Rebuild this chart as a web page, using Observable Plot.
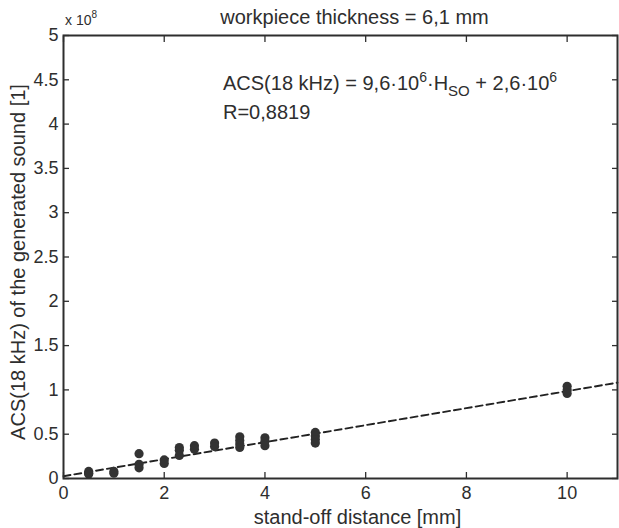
<!DOCTYPE html>
<html>
<head>
<meta charset="utf-8">
<script src="https://cdn.jsdelivr.net/npm/d3@7"></script>
<script src="https://cdn.jsdelivr.net/npm/@observablehq/plot@0.6"></script>
<style>
  html, body { margin: 0; padding: 0; background: #fff; }
  svg { display: block; }
</style>
</head>
<body>
<div id="chart"></div>
<script>
// ---- data ----
const hso = [0.5, 0.5, 0.5, 1, 1, 1.5, 1.5, 1.5, 2, 2, 2.3, 2.3, 2.3, 2.6, 2.6, 3, 3,
             3.5, 3.5, 3.5, 3.5, 4, 4, 4, 5, 5, 5, 5, 10, 10, 10];
const acs = [0.08e8, 0.06e8, 0.05e8, 0.08e8, 0.06e8, 0.28e8, 0.16e8, 0.12e8, 0.21e8, 0.17e8,
             0.35e8, 0.32e8, 0.26e8, 0.37e8, 0.33e8, 0.40e8, 0.36e8,
             0.47e8, 0.43e8, 0.39e8, 0.35e8, 0.46e8, 0.42e8, 0.37e8,
             0.52e8, 0.48e8, 0.44e8, 0.40e8, 1.04e8, 1.00e8, 0.96e8];
const fitSlope = 9.6e6;
const fitIntercept = 2.6e6;
const fitRange = [0, 11];
const xTicks = [0, 2, 4, 6, 8, 10];
const yTicks = [0, 0.5e8, 1e8, 1.5e8, 2e8, 2.5e8, 3e8, 3.5e8, 4e8, 4.5e8, 5e8];
const yTickLabels = ["0", "0.5", "1", "1.5", "2", "2.5", "3", "3.5", "4", "4.5", "5"];
const titleText = "workpiece thickness = 6,1 mm";
const xLabel = "stand-off distance [mm]";
const yLabel = "ACS(18 kHz) of the generated sound [1]";

(function () {
const points = hso.map((x, i) => ({x, y: acs[i]}));
const fit = fitRange.map(x => ({x, y: fitSlope * x + fitIntercept}));

const ink = "#2e2e2e";
const font = "Liberation Sans, Arial, sans-serif";

const chart = Plot.plot({
  width: 619,
  height: 528,
  marginLeft: 63,
  marginRight: 2,
  marginTop: 35,
  marginBottom: 50,
  style: {fontFamily: font, fontSize: "16px", color: ink, background: "#fff"},
  x: {domain: [0, 11]},
  y: {domain: [0, 5e8]},
  marks: [
    Plot.line(fit, {x: "x", y: "y", stroke: "#222", strokeWidth: 1.9, strokeDasharray: "7,4"}),
    Plot.dot(points, {x: "x", y: "y", r: 4.6, fill: "#333", stroke: "none"}),
    Plot.axisX({ticks: xTicks, anchor: "bottom", tickSize: -6, tickFormat: () => "", stroke: ink, strokeWidth: 1.3, label: null}),
    Plot.axisX({ticks: xTicks, anchor: "top", tickSize: -6, tickFormat: () => "", stroke: ink, strokeWidth: 1.3, label: null}),
    Plot.axisY({ticks: yTicks, anchor: "left", tickSize: -6, tickFormat: () => "", stroke: ink, strokeWidth: 1.3, label: null}),
    Plot.axisY({ticks: yTicks, anchor: "right", tickSize: -6, tickFormat: () => "", stroke: ink, strokeWidth: 1.3, label: null}),
    Plot.axisX({ticks: xTicks, anchor: "bottom", tickSize: 0, tickPadding: 8, fontSize: 18, fill: ink, label: null}),
    Plot.axisY({ticks: yTicks, anchor: "left", tickSize: 0, tickPadding: 5, fontSize: 18, fill: ink, label: null,
                tickFormat: d => yTickLabels[yTicks.indexOf(d)]}),
    Plot.frame({stroke: ink, strokeWidth: 2}),
    Plot.text([titleText], {frameAnchor: "top", dx: 14, dy: -18, fontSize: 20, fill: ink, lineAnchor: "middle"}),
    Plot.text([xLabel], {frameAnchor: "bottom", dx: 17, dy: 39, fontSize: 20, fill: ink, lineAnchor: "middle"}),
    Plot.text([yLabel], {frameAnchor: "left", dx: -45, dy: 5, rotate: -90, fontSize: 20, fill: ink,
                         lineAnchor: "middle", textAnchor: "middle"})
  ]
});

document.getElementById("chart").appendChild(chart);

const svg = d3.select(chart);
const sx = chart.scale("x"), sy = chart.scale("y");
const frameLeft = sx.apply(0), frameTop = sy.apply(5e8);

const exp = svg.append("text")
  .attr("x", frameLeft + 2).attr("y", frameTop - 10)
  .attr("text-anchor", "start")
  .attr("font-family", font).attr("font-size", 14).attr("fill", ink);
exp.append("tspan").text("x 10");
exp.append("tspan").attr("dy", -7).attr("font-size", 10).text("8");

const eq = svg.append("text")
  .attr("x", frameLeft + 160).attr("y", frameTop + 55)
  .attr("text-anchor", "start")
  .attr("font-family", font).attr("font-size", 20).attr("fill", ink);
eq.append("tspan").text("ACS(18 kHz) = 9,6·10");
eq.append("tspan").attr("dy", -8).attr("font-size", 14).text("6");
eq.append("tspan").attr("dy", 8).text("·H");
eq.append("tspan").attr("dy", 6).attr("font-size", 15).text("SO");
eq.append("tspan").attr("dy", -6).text(" + 2,6·10");
eq.append("tspan").attr("dy", -8).attr("font-size", 14).text("6");

svg.append("text")
  .attr("x", frameLeft + 160).attr("y", frameTop + 84)
  .attr("text-anchor", "start")
  .attr("font-family", font).attr("font-size", 20).attr("fill", ink)
  .text("R=0,8819");
})();
</script>
</body>
</html>
